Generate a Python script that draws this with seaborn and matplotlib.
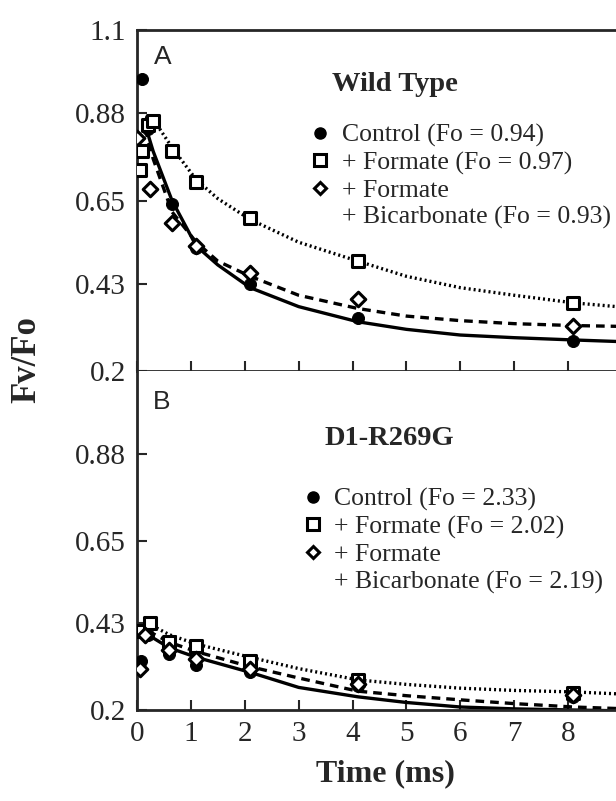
import pandas as pd
import seaborn as sns
import matplotlib.pyplot as plt
from matplotlib.lines import Line2D

# ============ Panel A: Wild Type (measured points) ============
wt_control_t = [0.1, 0.2, 0.65, 1.1, 2.1, 4.1, 8.1]
wt_control_v = [0.97, 0.84, 0.64, 0.525, 0.43, 0.34, 0.28]
wt_formate_t = [0.05, 0.1, 0.2, 0.3, 0.65, 1.1, 2.1, 4.1, 8.1]
wt_formate_v = [0.73, 0.78, 0.85, 0.86, 0.78, 0.70, 0.605, 0.49, 0.38]
wt_bicarb_t = [0.0, 0.25, 0.65, 1.1, 2.1, 4.1, 8.1]
wt_bicarb_v = [0.815, 0.68, 0.59, 0.53, 0.46, 0.39, 0.32]

# fitted curves
wt_fit_t = [0.15, 0.3, 0.65, 1.1, 1.5, 2.1, 3, 4.1, 5, 6, 7, 8.1, 8.9]
wt_fit_control = [0.85, 0.78, 0.65, 0.53, 0.48, 0.42, 0.37, 0.33, 0.31, 0.295, 0.288, 0.282, 0.278]
wt_fit_bicarb = [0.84, 0.76, 0.62, 0.54, 0.49, 0.45, 0.40, 0.365, 0.345, 0.333, 0.325, 0.32, 0.318]
wt_fit_formate = [0.87, 0.865, 0.79, 0.705, 0.655, 0.60, 0.54, 0.49, 0.45, 0.42, 0.40, 0.38, 0.37]

# ============ Panel B: D1-R269G (measured points) ============
mu_control_t = [0.08, 0.2, 0.6, 1.1, 2.1, 4.1, 8.1]
mu_control_v = [0.33, 0.40, 0.35, 0.32, 0.30, 0.265, 0.235]
mu_formate_t = [0.1, 0.25, 0.6, 1.1, 2.1, 4.1, 8.1]
mu_formate_v = [0.41, 0.43, 0.38, 0.37, 0.33, 0.28, 0.245]
mu_bicarb_t = [0.05, 0.15, 0.6, 1.1, 2.1, 4.1, 8.1]
mu_bicarb_v = [0.31, 0.40, 0.36, 0.335, 0.31, 0.27, 0.24]

mu_fit_t = [0.2, 0.6, 1.1, 2.1, 3, 4.1, 5, 6, 7, 8.1, 8.9]
mu_fit_control = [0.40, 0.365, 0.34, 0.30, 0.26, 0.235, 0.22, 0.208, 0.203, 0.20, 0.198]
mu_fit_bicarb = [0.41, 0.38, 0.355, 0.315, 0.285, 0.25, 0.238, 0.227, 0.217, 0.208, 0.204]
mu_fit_formate = [0.43, 0.40, 0.375, 0.34, 0.31, 0.28, 0.268, 0.258, 0.252, 0.248, 0.243]

ytick_vals = [0.2, 0.43, 0.65, 0.88, 1.1]
ytick_labels = ["0.2", "0.43", "0.65", "0.88", "1.1"]
xtick_vals = [0, 1, 2, 3, 4, 5, 6, 7, 8]

wt_legend = ["Control (Fo = 0.94)", "+ Formate (Fo = 0.97)", "+ Formate",
             "+ Bicarbonate (Fo = 0.93)"]
mu_legend = ["Control (Fo = 2.33)", "+ Formate (Fo = 2.02)", "+ Formate",
             "+ Bicarbonate (Fo = 2.19)"]

# ============ style ============
sns.set_style("ticks")
plt.rcParams['font.family'] = ['Liberation Serif', 'DejaVu Serif']
plt.rcParams['font.size'] = 18
plt.rcParams['xtick.direction'] = 'in'
plt.rcParams['ytick.direction'] = 'in'

fig = plt.figure(figsize=(6.16, 8.01), dpi=100)
ax_top = fig.add_axes([0.2224, 0.5368, 0.7776, 0.4257])
ax_bot = fig.add_axes([0.2224, 0.1136, 0.7776, 0.4232])


def draw_panel(ax, pts, fit_t, fits):
    (ct, cv), (ft, fv), (bt, bv) = pts
    fc, fb, ff = fits
    fit_df = pd.DataFrame({"t": fit_t * 3,
                           "v": fc + fb + ff,
                           "s": ["c"] * len(fit_t) + ["b"] * len(fit_t) + ["f"] * len(fit_t)})
    sns.lineplot(data=fit_df[fit_df.s == "c"], x="t", y="v", ax=ax, color="black",
                 lw=2.4, linestyle="-", legend=False)
    sns.lineplot(data=fit_df[fit_df.s == "b"], x="t", y="v", ax=ax, color="black",
                 lw=2.4, linestyle=(0, (2.6, 1.8)), legend=False)
    sns.lineplot(data=fit_df[fit_df.s == "f"], x="t", y="v", ax=ax, color="black",
                 lw=2.4, linestyle=(0, (0.6, 0.9)), legend=False)
    sns.scatterplot(x=ct, y=cv, ax=ax, marker="o", s=75, color="black",
                    edgecolor="black", zorder=5)
    sns.scatterplot(x=ft, y=fv, ax=ax, marker="s", s=75, facecolor="white",
                    edgecolor="black", linewidth=2.2, zorder=5)
    sns.scatterplot(x=bt, y=bv, ax=ax, marker="D", s=55, facecolor="white",
                    edgecolor="black", linewidth=2.2, zorder=6)
    ax.set_xlim(0, 8.89)
    ax.set_ylim(0.2, 1.1)
    ax.set_xticks(xtick_vals)
    ax.set_yticks(ytick_vals)
    ax.tick_params(length=7, width=1.5, labelsize=21, pad=8)
    ax.spines['right'].set_visible(False)
    for s in ['left', 'top', 'bottom']:
        ax.spines[s].set_linewidth(2)
    ax.set_xlabel("")
    ax.set_ylabel("")


def make_legend(ax, labels, anchor):
    handles = [
        Line2D([], [], marker="o", ls="none", color="black", markersize=8),
        Line2D([], [], marker="s", ls="none", mfc="white", mec="black", mew=2.2, markersize=8),
        Line2D([], [], marker="D", ls="none", mfc="white", mec="black", mew=2.2, markersize=6.5),
        Line2D([], [], ls="none"),
    ]
    ax.legend(handles, labels, loc="upper left", bbox_to_anchor=anchor, frameon=False,
              fontsize=18.5, handlelength=0.8, handletextpad=0.45, labelspacing=0.16,
              borderpad=0, borderaxespad=0)


draw_panel(ax_top, [(wt_control_t, wt_control_v), (wt_formate_t, wt_formate_v),
                    (wt_bicarb_t, wt_bicarb_v)],
           wt_fit_t, [wt_fit_control, wt_fit_bicarb, wt_fit_formate])
draw_panel(ax_bot, [(mu_control_t, mu_control_v), (mu_formate_t, mu_formate_v),
                    (mu_bicarb_t, mu_bicarb_v)],
           mu_fit_t, [mu_fit_control, mu_fit_bicarb, mu_fit_formate])

ax_top.set_yticklabels(ytick_labels)
ax_top.tick_params(labelbottom=False)
ax_bot.set_yticks(ytick_vals[:-1])
ax_bot.set_yticklabels(ytick_labels[:-1])
ax_bot.spines['top'].set_visible(False)

# ============ panel titles ============
ax_top.text(0.054, 0.92, "A", transform=ax_top.transAxes, fontsize=19,
            family="Liberation Sans", ha="center", va="center")
ax_bot.text(0.052, 0.909, "B", transform=ax_bot.transAxes, fontsize=19,
            family="Liberation Sans", ha="center", va="center")
ax_top.text(0.539, 0.839, "Wild Type", transform=ax_top.transAxes, fontsize=20.5,
            fontweight="bold", ha="center", va="center")
ax_bot.text(0.526, 0.802, "D1-R269G", transform=ax_bot.transAxes, fontsize=20.5,
            fontweight="bold", ha="center", va="center")

make_legend(ax_top, wt_legend, (0.36, 0.725))
make_legend(ax_bot, mu_legend, (0.345, 0.655))

# ============ axis labels ============
ax_bot.set_xlabel("Time (ms)", fontsize=23, fontweight="bold")
ax_bot.xaxis.set_label_coords(0.518, -0.145)
fig.text(0.044, 0.5506, "Fv/Fo", rotation=90, fontsize=25, fontweight="bold",
         ha="center", va="center")

fig.savefig("out.png", dpi=100)
